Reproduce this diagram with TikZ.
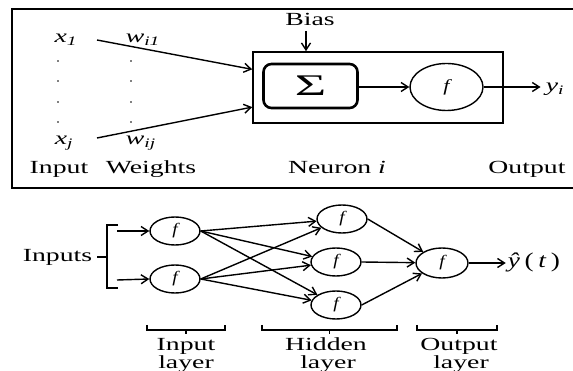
\documentclass[tikz,border=0pt]{standalone}
\usepackage{fontspec}
\setmainfont{Liberation Serif}
\usepackage{graphicx}
\usetikzlibrary{arrows.meta,shapes.geometric,calc}
% horizontally widened lettering
\newcommand{\hs}[1]{\scalebox{1.5}[1]{#1}}
\newcommand{\ivar}[2]{\textit{#1}\textsubscript{\textit{#2}}}

\begin{document}
\begin{tikzpicture}[x=1pt,y=-1pt,
  lbl/.style={font=\fontsize{18.5}{20}\selectfont, inner sep=0pt, anchor=base},
  wire/.style={line width=1.4pt},
  arr/.style={wire, -{Straight Barb[length=7pt,width=9pt,line width=1.4pt]}},
  neu/.style={ellipse, draw, line width=1.4pt, minimum width=50pt,
    minimum height=28pt, inner sep=0pt,
    font=\fontsize{16}{18}\selectfont\itshape},
  brk/.style={line width=1.5pt},
  dotmark/.style={fill=black}]
\useasboundingbox (0,0) rectangle (573,371);

% ---------- single neuron ----------
\draw[line width=2pt] (575,9) -- (12,9) -- (12,188) -- (575,188);

\node[lbl] (x1)  at (66,43)   {\hs{\ivar{x}{1}}};
\node[lbl] (w1)  at (143,43)  {\hs{\ivar{w}{i1}}};
\node[lbl] (xj)  at (64,145)  {\hs{\ivar{x}{j}}};
\node[lbl] (wj)  at (141,145) {\hs{\ivar{w}{ij}}};
\foreach \yy in {61,81,102,122} {
  \fill[dotmark] (58,\yy) circle (0.9);
  \fill[dotmark] (131,\yy) circle (0.9);
}

\node[lbl] (bias)   at (310,26)  {\hs{Bias}};
\node[lbl] (linput) at (59,174)  {\hs{Input}};
\node[lbl] (lwts)   at (151,174) {\hs{Weights}};
\node[lbl] (lneur)  at (337,174) {\hs{Neuron \textit{i}}};
\node[lbl] (lout)   at (527,174) {\hs{Output}};

\node[draw, line width=1.6pt, minimum width=250pt, minimum height=71pt,
  inner sep=0pt] (nb) at (378,87.5) {};
\node[draw, line width=2.6pt, rounded corners=8pt, minimum width=94pt,
  minimum height=44pt, inner sep=0pt,
  font=\fontsize{30}{32}\selectfont] (sig) at (310.5,86) {\scalebox{1.8}[1]{Σ}};
\node[ellipse, draw, line width=1.4pt, minimum width=73pt, minimum height=47pt,
  inner sep=0pt, font=\fontsize{17}{19}\selectfont\itshape] (f1) at (446.5,87) {\scalebox{1.3}[1]{f}};
\node[lbl] (yi) at (555,92) {\hs{\ivar{y}{i}}};

\coordinate (s1) at (97,40);
\coordinate (sj) at (97,138);
\coordinate (biasa) at (306,31);
\draw[arr] (s1) -- ($(nb.north west)!0.25!(nb.south west)$);
\draw[arr] (sj) -- ($(nb.north west)!0.77!(nb.south west)$);
\draw[arr] (biasa) -- (biasa |- nb.north);
\draw[arr] (sig.east |- f1.center) -- (f1.west);
\draw[arr, shorten >=5pt] (f1.east) -- (f1.east -| yi.west);

% ---------- multilayer network ----------
\node[lbl] (inputs) at (57.5,262) {\hs{Inputs}};
\draw[brk] (97,257) -- (107,257);
\draw[brk] (118,225) -- (107,225) -- (107,288) -- (118,288);
\coordinate (a1) at (117,231);
\coordinate (a2) at (117,280);

\node[neu] (i1) at (175,231) {\scalebox{1.2}[1]{f}};
\node[neu] (i2) at (175,279) {\scalebox{1.2}[1]{f}};
\node[neu] (h1) at (342,219) {\scalebox{1.2}[1]{f}};
\node[neu] (h2) at (336,262) {\scalebox{1.2}[1]{f}};
\node[neu] (h3) at (336,305) {\scalebox{1.2}[1]{f}};
\node[neu, minimum width=52pt, minimum height=30pt] (o) at (442,263) {\scalebox{1.2}[1]{f}};
\node[lbl, font=\fontsize{21}{23}\selectfont] (yhat) at (534,268)
  {\scalebox{1.3}[1]{\textit{ŷ}\,(\,\textit{t}\,)}};

\draw[arr] (a1) -- (i1.west);
\draw[arr] (a2) -- (i2.west);
\foreach \s in {i1,i2} {
  \foreach \t in {h1,h2,h3} {
    \draw[arr] (\s.east) -- (\t);
  }
}
\foreach \t in {h1,h2,h3} {
  \draw[arr] (\t.east) -- (o);
}
\draw[arr, shorten >=2pt] (o.east) -- (o.east -| yhat.west);

% layer braces
\draw[brk] (147,325) -- (147,330) -- (225,330) -- (225,325);
\draw[brk] (186,330) -- (186,334);
\draw[brk] (262,325) -- (262,330) -- (397,330) -- (397,325);
\draw[brk] (329.5,330) -- (329.5,334);
\draw[brk] (417,325) -- (417,330) -- (497,330) -- (497,325);
\draw[brk] (457,330) -- (457,334);

\node[lbl] (ll1a) at (186,351) {\hs{Input}};
\node[lbl] (ll1b) at (186,368) {\hs{layer}};
\node[lbl] (ll2a) at (326,351) {\hs{Hidden}};
\node[lbl] (ll2b) at (328,368) {\hs{layer}};
\node[lbl] (ll3a) at (459,351) {\hs{Output}};
\node[lbl] (ll3b) at (461,368) {\hs{layer}};
\end{tikzpicture}
\end{document}
